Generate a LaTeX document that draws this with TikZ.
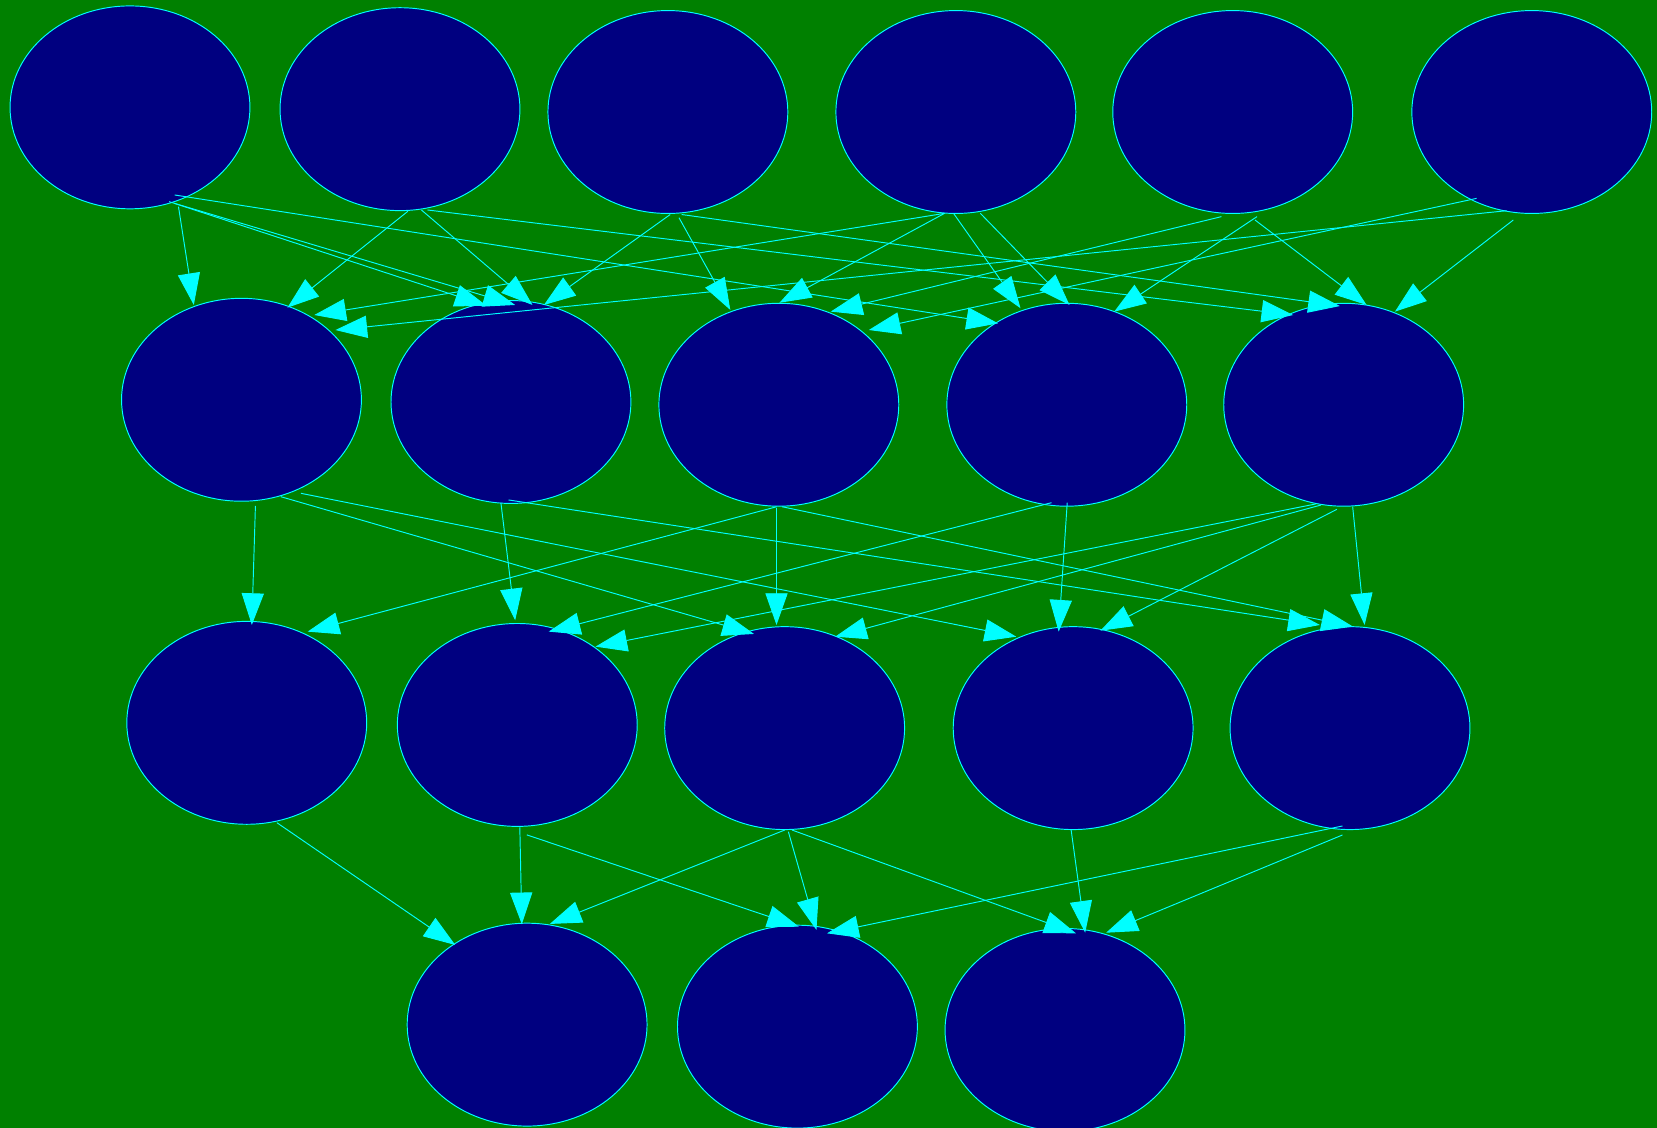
\documentclass[tikz,border=0pt]{standalone}
\usetikzlibrary{arrows.meta,calc,shapes.geometric}
\definecolor{bggreen}{HTML}{008000}
\definecolor{nodeblue}{HTML}{000080}
\definecolor{linecyan}{HTML}{00FFFF}
\begin{document}
\begin{tikzpicture}[x=1pt,y=-1pt,
  vertex/.style={ellipse, draw=linecyan, fill=nodeblue, line width=0.9pt,
    minimum width=227pt, minimum height=192pt, inner sep=0pt, outer sep=0pt},
  link/.style={draw=linecyan, line width=0.9pt,
    -{Triangle[length=30pt,width=21pt]}}]
\fill[bggreen] (0,0) rectangle (1568,1067);
\useasboundingbox (0,0) rectangle (1568,1067);
\begin{scope}
\clip (0,0) rectangle (1568,1067);
% row 1
\node[vertex] (A) at (123,101.6) {};
\node[vertex] (B) at (378.5,103.3) {};
\node[vertex] (C) at (632,106) {};
\node[vertex] (D) at (904.5,106) {};
\node[vertex] (E) at (1166.5,106) {};
\node[vertex] (F) at (1449.5,106) {};
% row 2
\node[vertex] (G) at (228.5,378.3) {};
\node[vertex] (H) at (483.5,380.4) {};
\node[vertex] (I) at (737,383) {};
\node[vertex] (J) at (1009.5,383) {};
\node[vertex] (K) at (1271.5,383) {};
% row 3
\node[vertex] (L) at (233.5,684) {};
\node[vertex] (M) at (489.5,686) {};
\node[vertex] (N) at (742.5,689) {};
\node[vertex] (O) at (1015.5,689) {};
\node[vertex] (P) at (1277.5,689) {};
% row 4
\node[vertex] (Q) at (498.8,969.6) {};
\node[vertex] (R) at (754.6,971.5) {};
\node[vertex] (S) at (1007.8,974.6) {};
\end{scope}
% row 1 -> row 2
\draw[link] ($(A)+(45.9,94)$) -- ($(G)+(-45.1,-89.7)$);
\draw[link] ($(A)+(37,89.2)$) -- ($(H)+(-23.1,-91.1)$);
\draw[link] ($(A)+(42,90.8)$) -- ($(H)+(4,-91.8)$);
\draw[link] ($(A)+(42.2,82.9)$) -- ($(J)+(-65,-77)$);
\draw[link] ($(B)+(7.5,96.6)$) -- ($(G)+(43.5,-87.2)$);
\draw[link] ($(B)+(20.3,95.4)$) -- ($(H)+(20.4,-91.8)$);
\draw[link] ($(B)+(26,95.4)$) -- ($(K)+(-47.7,-84.9)$);
\draw[link] ($(C)+(2.2,97)$) -- ($(H)+(31.2,-91.8)$);
\draw[link] ($(C)+(10.5,100)$) -- ($(I)+(-45.9,-89.7)$);
\draw[link] ($(C)+(13,97)$) -- ($(K)+(-3.5,-93.4)$);
\draw[link] ($(D)+(-10.7,95.9)$) -- ($(G)+(68.9,-80.2)$);
\draw[link] ($(D)+(-10.7,95.9)$) -- ($(I)+(0.6,-96.5)$);
\draw[link] ($(D)+(-2.2,95.9)$) -- ($(J)+(-43.8,-91.3)$);
\draw[link] ($(D)+(23.2,95.9)$) -- ($(J)+(2.6,-94.4)$);
\draw[link] ($(E)+(-10.7,99)$) -- ($(I)+(49.1,-88.1)$);
\draw[link] ($(E)+(23,99)$) -- ($(J)+(44.9,-88.1)$);
\draw[link] ($(E)+(21.1,102.2)$) -- ($(K)+(21.7,-94.4)$);
\draw[link] ($(F)+(-23.8,93.4)$) -- ($(G)+(88.9,-66)$);
\draw[link] ($(F)+(-52.2,81.7)$) -- ($(I)+(85.1,-70.7)$);
\draw[link] ($(F)+(-17.5,102.2)$) -- ($(K)+(48.5,-88.1)$);
% row 2 -> row 3
\draw[link] ($(G)+(13.2,100.5)$) -- ($(L)+(4.8,-92.6)$);
\draw[link] ($(G)+(37.2,91.7)$) -- ($(N)+(-29,-89.1)$);
\draw[link] ($(G)+(56.2,88.5)$) -- ($(O)+(-53.8,-86.5)$);
\draw[link] ($(H)+(-9.5,95.3)$) -- ($(M)+(-2,-99)$);
\draw[link] ($(H)+(-2.3,92.7)$) -- ($(P)+(-28.5,-97.6)$);
\draw[link] ($(I)+(-2,96.5)$) -- ($(L)+(57.6,-86.3)$);
\draw[link] ($(I)+(-2.2,98)$) -- ($(N)+(-7.7,-97.6)$);
\draw[link] ($(I)+(3,96.5)$) -- ($(P)+(2.9,-96)$);
\draw[link] ($(J)+(-14.5,92.7)$) -- ($(M)+(29.7,-88.3)$);
\draw[link] ($(J)+(0.4,92.7)$) -- ($(O)+(-13.7,-91.3)$);
\draw[link] ($(K)+(-26.5,93.9)$) -- ($(M)+(74,-74.1)$);
\draw[link] ($(K)+(-21.5,94.9)$) -- ($(N)+(47.8,-86.5)$);
\draw[link] ($(K)+(-6.5,99)$) -- ($(O)+(25.8,-92.2)$);
\draw[link] ($(K)+(8.5,96.4)$) -- ($(P)+(13.8,-97.6)$);
% row 3 -> row 4
\draw[link] ($(L)+(28.5,94.5)$) -- ($(Q)+(-68,-75.4)$);
\draw[link] ($(M)+(2.4,97)$) -- ($(Q)+(-5,-95)$);
\draw[link] ($(M)+(9,104)$) -- ($(R)+(1.4,-94.6)$);
\draw[link] ($(N)+(0.2,96.4)$) -- ($(Q)+(21.5,-95.3)$);
\draw[link] ($(N)+(3.5,98)$) -- ($(R)+(18,-91.5)$);
\draw[link] ($(N)+(6.9,96.4)$) -- ($(S)+(10.4,-91.4)$);
\draw[link] ($(O)+(-1.9,96.4)$) -- ($(S)+(19.1,-92)$);
\draw[link] ($(P)+(-7.1,92.6)$) -- ($(R)+(28,-88.3)$);
\draw[link] ($(P)+(-7.1,101.1)$) -- ($(S)+(38.9,-92)$);
\end{tikzpicture}
\end{document}
